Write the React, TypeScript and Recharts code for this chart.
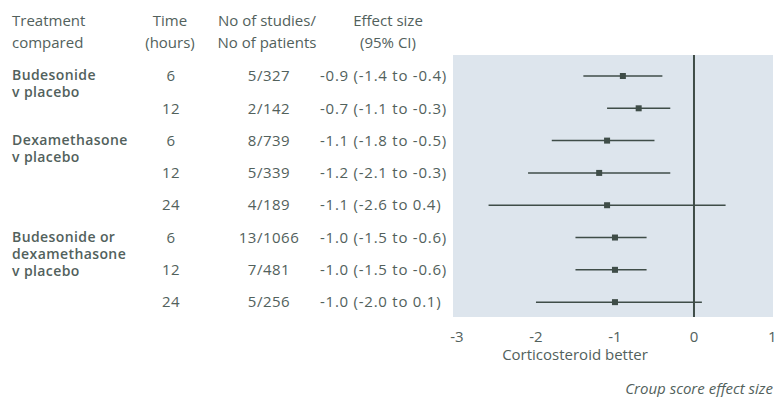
import {
  ComposedChart,
  Scatter,
  ErrorBar,
  XAxis,
  YAxis,
  CartesianGrid,
  ReferenceLine,
} from 'recharts';

const treatments = [
  'Budesonide|v placebo',
  '',
  'Dexamethasone|v placebo',
  '',
  '',
  'Budesonide or|dexamethasone|v placebo',
  '',
  '',
];
const times = [6, 12, 6, 12, 24, 6, 12, 24];
const studies = ['5/327', '2/142', '8/739', '5/339', '4/189', '13/1066', '7/481', '5/256'];
const effects = [-0.9, -0.7, -1.1, -1.2, -1.1, -1.0, -1.0, -1.0];
const lowers = [-1.4, -1.1, -1.8, -2.1, -2.6, -1.5, -1.5, -2.0];
const uppers = [-0.4, -0.3, -0.5, -0.3, 0.4, -0.6, -0.6, 0.1];
const xTicks = [-3, -2, -1, 0, 1];

const TEXT = '#52615c';
const LINE = '#3f4d48';
const FONT = '"Open Sans", sans-serif';

const rows = effects.map((e, i) => ({
  row: i,
  effect: e,
  ci: [+(e - lowers[i]).toFixed(2), +(uppers[i] - e).toFixed(2)],
}));

const fmt = (v: number) => v.toFixed(1);

function RowTick({ y, payload }: any) {
  const i = payload.value;
  const lines = treatments[i] ? treatments[i].split('|') : [];
  return (
    <g fontFamily={FONT} fontSize={15} fill={TEXT}>
      {lines.map((l, k) => (
        <text key={k} x={12} y={y + k * 17.2} dy="0.3em" fontSize={14} fontWeight={600} letterSpacing={0.4}>
          {l}
        </text>
      ))}
      <text x={171} y={y} dy="0.35em" textAnchor="middle" letterSpacing={0.5}>{times[i]}</text>
      <text x={269} y={y} dy="0.35em" textAnchor="middle" letterSpacing={0.5}>{studies[i]}</text>
      <text x={320} y={y} dy="0.35em" letterSpacing={0.75}>
        {`${fmt(effects[i])} (${fmt(lowers[i])} to ${fmt(uppers[i])})`}
      </text>
    </g>
  );
}

const Marker = (props: any) => (
  <rect x={props.cx - 3} y={props.cy - 3} width={6} height={6} fill={LINE} />
);

const abs = (left: number, top: number, width: number, align: any) => ({
  position: 'absolute' as const,
  left,
  top,
  width,
  textAlign: align,
  lineHeight: '22px',
  fontSize: 15,
  color: TEXT,
});

export default function App() {
  return (
    <div style={{ position: 'absolute', left: 0, top: 0, width: 776, height: 397, fontFamily: FONT, background: '#fff' }}>
      <ComposedChart
        width={776}
        height={397}
        data={rows}
        margin={{ top: 55, right: 3, bottom: 50, left: 0 }}
      >
        <CartesianGrid fill="#dde5ed" stroke="none" horizontal={false} vertical={false} />
        <XAxis
          type="number"
          dataKey="effect"
          domain={[-3.05, 1]}
          allowDataOverflow
          ticks={xTicks}
          axisLine={false}
          tickLine={false}
          tickMargin={8}
          height={30}
          tick={{ fill: TEXT, fontSize: 15, fontFamily: FONT }}
        />
        <YAxis
          type="number"
          dataKey="row"
          domain={[-0.65, 7.46]}
          allowDataOverflow
          reversed
          ticks={[0, 1, 2, 3, 4, 5, 6, 7]}
          axisLine={false}
          tickLine={false}
          width={453}
          tick={<RowTick />}
        />
        <ReferenceLine x={0} stroke={LINE} strokeWidth={2} />
        <Scatter dataKey="effect" shape={<Marker />} isAnimationActive={false}>
          <ErrorBar dataKey="ci" direction="x" width={0} stroke={LINE} strokeWidth={1.5} />
        </Scatter>
      </ComposedChart>
      <div style={abs(12, 9, 120, 'left')}>Treatment<br />compared</div>
      <div style={abs(130, 9, 80, 'center')}>Time<br />(hours)</div>
      <div style={abs(202, 9, 130, 'center')}>No of studies/<br />No of patients</div>
      <div style={abs(338, 9, 100, 'center')}>Effect size<br />(95% CI)</div>
      <div style={abs(475, 343, 200, 'center')}>Corticosteroid better</div>
      <div style={{ ...abs(560, 377, 213, 'right'), fontStyle: 'italic' }}>Croup score effect size</div>
    </div>
  );
}
